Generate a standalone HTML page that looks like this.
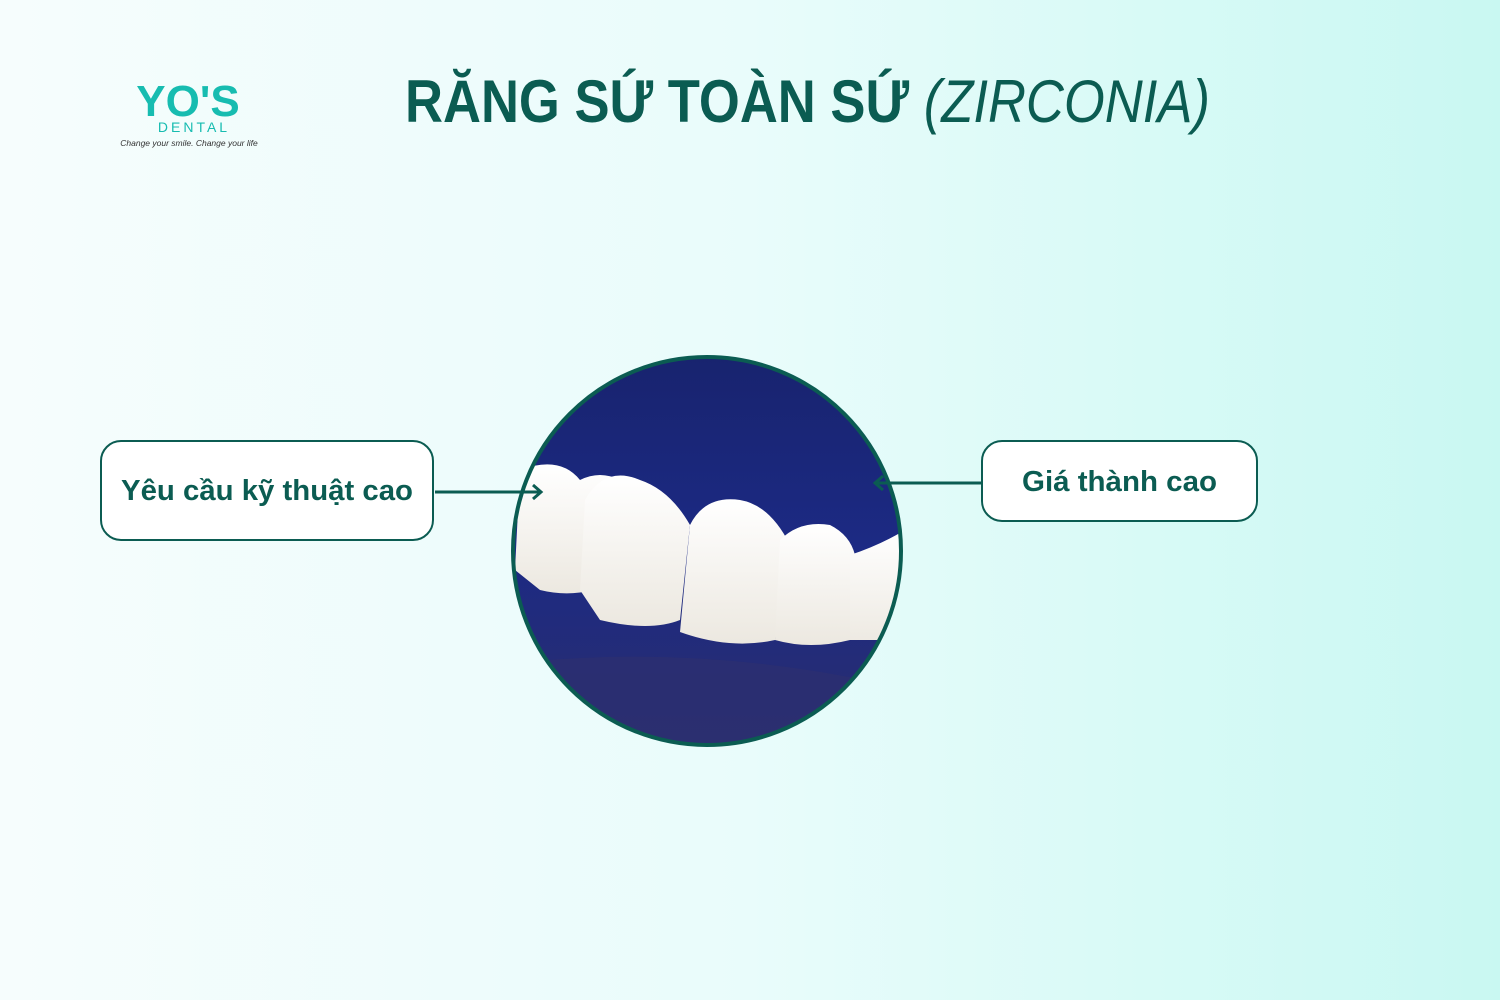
<!DOCTYPE html>
<html><head><meta charset="utf-8"><style>
html,body{margin:0;padding:0;width:1500px;height:1000px;overflow:hidden}
body{background:linear-gradient(90deg,#f6fdfd 0%,#e9fcfb 50%,#c9f8f2 100%)}
svg{display:block}
</style></head><body>
<svg width="1500" height="1000" viewBox="0 0 1500 1000" xmlns="http://www.w3.org/2000/svg">
<defs>
<clipPath id="c"><circle cx="707" cy="551" r="194"/></clipPath>
<linearGradient id="bg" x1="0" y1="0" x2="0" y2="1">
<stop offset="0" stop-color="#18236e"/><stop offset="0.5" stop-color="#1c2a84"/><stop offset="1" stop-color="#2a2d6e"/></linearGradient>
<linearGradient id="t" x1="0" y1="0" x2="0" y2="1">
<stop offset="0" stop-color="#ffffff"/><stop offset="1" stop-color="#ece8e0"/></linearGradient>
</defs>
<!-- logo -->
<text x="188" y="116" text-anchor="middle" font-family="Liberation Sans, sans-serif" font-weight="bold" font-size="44" fill="#17bcb0">YO'S</text>
<text x="194" y="132" text-anchor="middle" font-family="Liberation Sans, sans-serif" font-size="14" letter-spacing="3" fill="#17bcb0">DENTAL</text>
<text x="189" y="146" text-anchor="middle" font-family="Liberation Sans, sans-serif" font-style="italic" font-size="8.5" fill="#333">Change your smile. Change your life</text>
<!-- title -->
<text x="405" y="122" font-family="Liberation Sans, sans-serif" font-size="60" fill="#0b5c52" textLength="805" lengthAdjust="spacingAndGlyphs"><tspan font-weight="bold">RĂNG SỨ TOÀN SỨ </tspan><tspan font-style="italic">(ZIRCONIA)</tspan></text>
<!-- circle image -->
<g clip-path="url(#c)">
<rect x="500" y="350" width="420" height="400" fill="url(#bg)"/>
<path d="M500 665 Q700 640 910 690 L910 750 L500 750Z" fill="#2c2f70" opacity="0.8"/>
<path d="M520 470 Q560 455 580 480 Q600 470 620 480 L630 520 L620 580 Q580 600 540 590 L515 570Z" fill="url(#t)"/>
<path d="M585 500 Q605 465 640 480 Q670 490 690 525 L680 620 Q650 632 600 620 L580 590Z" fill="url(#t)"/>
<path d="M690 525 Q705 495 740 500 Q770 505 790 545 L775 640 Q730 650 680 632Z" fill="url(#t)"/>
<path d="M780 540 Q800 520 830 525 Q850 535 855 555 L850 640 Q810 650 775 640Z" fill="url(#t)"/>
<path d="M850 555 Q880 545 905 530 L905 650 L880 640 L850 640Z" fill="url(#t)"/>
</g>
<circle cx="707" cy="551" r="194" fill="none" stroke="#0b5c52" stroke-width="4"/>
<!-- boxes -->
<rect x="101" y="441" width="332" height="99" rx="20" fill="#fff" stroke="#0b5c52" stroke-width="2"/>
<text x="121" y="500" font-family="Liberation Sans, sans-serif" font-weight="bold" font-size="29" fill="#0b5c52" textLength="292" lengthAdjust="spacingAndGlyphs">Yêu cầu kỹ thuật cao</text>
<rect x="982" y="441" width="275" height="80" rx="20" fill="#fff" stroke="#0b5c52" stroke-width="2"/>
<text x="1022" y="491" font-family="Liberation Sans, sans-serif" font-weight="bold" font-size="29" fill="#0b5c52" textLength="195" lengthAdjust="spacingAndGlyphs">Giá thành cao</text>
<!-- arrows -->
<path d="M435 492 L541 492 M533 485 L541 492 L533 499" fill="none" stroke="#0b5c52" stroke-width="3"/>
<path d="M981 483 L875 483 M883 476 L875 483 L883 490" fill="none" stroke="#0b5c52" stroke-width="3"/>
</svg>
</body></html>
